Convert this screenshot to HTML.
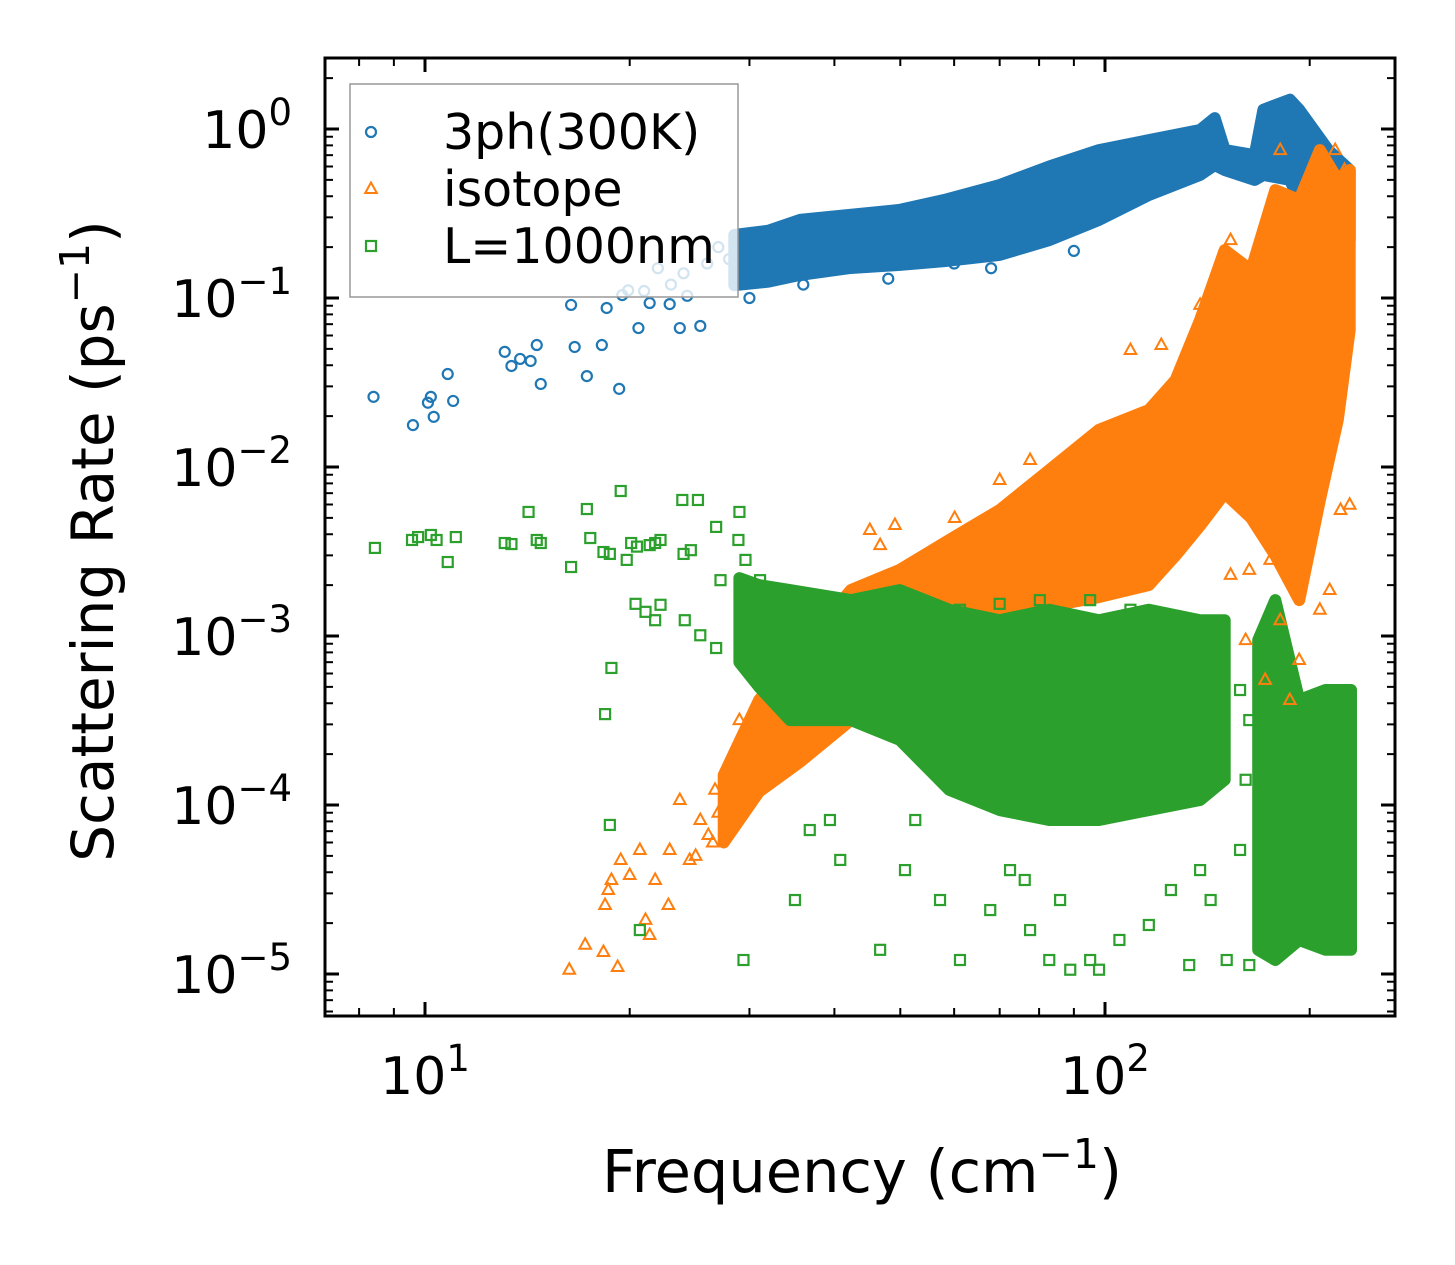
<!DOCTYPE html>
<html><head><meta charset="utf-8"><title>Scattering Rate vs Frequency</title>
<style>html,body{margin:0;padding:0;background:#fff}svg{display:block;font-family:"DejaVu Sans","Liberation Sans",sans-serif}</style>
</head><body>
<svg id="chart" width="1455" height="1265" viewBox="0 0 1455 1265" xmlns="http://www.w3.org/2000/svg">
<rect width="1455" height="1265" fill="#fff"/>
<g id="bands"></g><g id="pts"></g><g id="axes"></g><g id="legend"></g>
</svg>
<script>
// ---- data ----
const xTickVals = [10, 100];
const yTickExps = [0, -1, -2, -3, -4, -5];
const blueBandF = [28.5, 32, 35.6, 42, 49.9, 58, 70.0, 82.8, 98.0, 116, 138, 145, 150, 166, 171, 187, 193, 213, 229];
const blueBandHi = [0.236, 0.25, 0.29, 0.31, 0.332, 0.38, 0.466, 0.6, 0.75, 0.86, 0.986, 1.16, 0.75, 0.70, 1.30, 1.49, 1.30, 0.75, 0.572];
const blueBandLo = [0.119, 0.125, 0.137, 0.15, 0.157, 0.165, 0.18, 0.22, 0.29, 0.407, 0.535, 0.612, 0.572, 0.50, 0.535, 0.50, 0.38, 0.29, 0.22];
const orangeBandF = [27.5, 31.0, 35.6, 42.3, 49.9, 59.0, 70.0, 82.8, 98.0, 116, 127, 138, 150, 164, 178, 193, 207, 220, 229];
const orangeBandHi = [1.5e-4, 4.18e-4, 8.26e-4, 1.87e-3, 2.46e-3, 3.70e-3, 5.57e-3, 9.6e-3, 1.66e-2, 2.17e-2, 3.27e-2, 7.41e-2, 0.192, 0.146, 0.435, 0.38, 0.75, 0.50, 0.572];
const orangeBandLo = [6.0e-5, 1.2e-4, 1.8e-4, 3.18e-4, 7.21e-4, 1.24e-3, 1.3e-3, 1.5e-3, 1.7e-3, 2.0e-3, 3.0e-3, 4.5e-3, 7.0e-3, 5.0e-3, 3.0e-3, 1.63e-3, 6.38e-3, 1.90e-2, 6.47e-2];
const greenBandF = [29.0, 31.0, 34.4, 42.3, 49.9, 59.0, 70.0, 82.8, 98.0, 116, 138, 150];
const greenBandHi = [2.2e-3, 2.0e-3, 1.87e-3, 1.63e-3, 1.87e-3, 1.43e-3, 1.24e-3, 1.43e-3, 1.24e-3, 1.43e-3, 1.24e-3, 1.24e-3];
const greenBandLo = [7.0e-4, 5.0e-4, 3.18e-4, 3.18e-4, 2.43e-4, 1.23e-4, 9.33e-5, 8.15e-5, 8.15e-5, 9.33e-5, 1.07e-4, 1.41e-4];
const greenBand2F = [168, 178, 193, 211, 230];
const greenBand2Hi = [9.46e-4, 1.63e-3, 4.18e-4, 4.79e-4, 4.79e-4];
const greenBand2Lo = [1.39e-5, 1.21e-5, 1.59e-5, 1.39e-5, 1.39e-5];
const bluePtsF = [8.4,9.6,10.1,10.2,10.3,10.8,11.0,13.1,13.4,13.8,14.3,14.6,14.8,16.4,16.6,17.3,18.2,18.5,19.3,19.5,19.9,20.6,21.4,22.9,23.7,24.3,25.4,22,24,26,27,28,21,23,30,36,48,68,90,60];
const bluePtsV = [0.026,0.0177,0.024,0.026,0.0198,0.0355,0.0246,0.048,0.0396,0.0436,0.0424,0.0527,0.031,0.091,0.0513,0.0345,0.0527,0.0873,0.029,0.104,0.111,0.0664,0.0934,0.092,0.0664,0.103,0.0683,0.15,0.14,0.16,0.2,0.17,0.11,0.12,0.1,0.12,0.13,0.15,0.19,0.16];
const orangePtsF = [16.3,17.2,18.3,19.2,18.4,18.6,18.8,19.4,20.0,21.1,21.4,20.7,21.8,22.8,22.9,23.7,24.5,25.4,26.1,26.7,28.1,29.0,60.1,70,77.6,109,121,138,153,181,218,225,153,163,175,161,172,181,187,214,222,229,193,207,45.1,49.1,46.7,25.0,26.5,27.0];
const orangePtsV = [1.06e-5,1.49e-5,1.35e-5,1.1e-5,2.56e-5,3.14e-5,3.6e-5,4.73e-5,3.85e-5,2.09e-5,1.7e-5,5.42e-5,3.6e-5,2.56e-5,5.42e-5,1.07e-4,4.73e-5,8.15e-5,6.64e-5,1.23e-4,1.85e-4,3.18e-4,4.99e-3,8.38e-3,1.1e-2,4.92e-2,5.27e-2,9.1e-2,0.22,0.75,0.75,0.572,2.3e-3,2.46e-3,2.82e-3,9.46e-4,5.5e-4,1.24e-3,4.18e-4,1.87e-3,5.57e-3,5.98e-3,7.21e-4,1.43e-3,4.24e-3,4.54e-3,3.45e-3,5.0e-5,6.0e-5,9.0e-5];
const greenPtsF = [8.44,9.57,9.77,10.2,10.4,10.8,11.1,13.1,13.4,14.2,14.6,14.8,16.4,17.3,17.5,18.3,18.7,19.4,19.8,20.1,20.5,21.4,21.8,22.2,23.9,25.2,24.0,24.6,26.8,29.0,28.9,18.8,18.4,20.4,21.1,21.8,22.2,24.1,25.4,26.8,27.2,29.6,31.1,32.2,33.8,18.7,20.7,29.4,35.0,36.8,39.4,40.8,46.7,50.8,52.6,57.2,61.2,67.8,72.5,77.6,82.8,88.9,95.1,98,116,133,143,151,163,76.2,85.9,105,125,138,109,70,80.2,95.1,61.2,158,163,161,158];
const greenPtsV = [3.32e-3,3.70e-3,3.85e-3,3.96e-3,3.70e-3,2.74e-3,3.85e-3,3.55e-3,3.50e-3,5.42e-3,3.70e-3,3.55e-3,2.56e-3,5.64e-3,3.8e-3,3.14e-3,3.06e-3,7.21e-3,2.82e-3,3.55e-3,3.38e-3,3.45e-3,3.55e-3,3.70e-3,6.38e-3,6.38e-3,3.06e-3,3.22e-3,4.42e-3,5.42e-3,3.70e-3,6.47e-4,3.45e-4,1.55e-3,1.39e-3,1.24e-3,1.53e-3,1.24e-3,1.01e-3,8.49e-4,2.14e-3,2.82e-3,2.14e-3,1.63e-3,1.24e-3,7.62e-5,1.82e-5,1.21e-5,2.74e-5,7.11e-5,8.15e-5,4.73e-5,1.39e-5,4.12e-5,8.15e-5,2.74e-5,1.21e-5,2.39e-5,4.12e-5,1.82e-5,1.21e-5,1.06e-5,1.21e-5,1.06e-5,1.95e-5,1.13e-5,2.74e-5,1.21e-5,1.13e-5,3.6e-5,2.74e-5,1.59e-5,3.14e-5,4.12e-5,1.43e-3,1.55e-3,1.63e-3,1.63e-3,1.43e-3,4.79e-4,3.18e-4,1.41e-4,5.42e-5];

// ---- axes ----
const L=325,R=1395,T=58,B=1016;
const sx=f=>425+680*(Math.log10(f)-1);
const sy=v=>129-169*Math.log10(v);
const NS="http://www.w3.org/2000/svg";
function mk(tag,attrs,parent){const e=document.createElementNS(NS,tag);for(const k in attrs)e.setAttribute(k,attrs[k]);parent.appendChild(e);return e;}
const C={b:"#1f77b4",o:"#ff7f0e",g:"#2ca02c"};
const bands=document.getElementById('bands'),pts=document.getElementById('pts'),axes=document.getElementById('axes'),leg=document.getElementById('legend');

function band(F,Hi,Lo,col,name){
  let d="";F.forEach((f,i)=>{d+=(i?"L":"M")+sx(f).toFixed(1)+","+sy(Hi[i]).toFixed(1);});
  for(let i=F.length-1;i>=0;i--)d+="L"+sx(F[i]).toFixed(1)+","+sy(Lo[i]).toFixed(1);
  const p=mk('path',{d:d+"Z",fill:col,stroke:col,'stroke-width':12,'stroke-linejoin':'round'},bands);
  
  
}
function marker(kind,x,y,col,parent){
  let e;
  if(kind==='c')e=mk('circle',{cx:x,cy:y,r:5,fill:'none',stroke:col,'stroke-width':2.2},parent);
  else if(kind==='t')e=mk('polygon',{points:`${x},${y-6.5} ${x-5.8},${y+4} ${x+5.8},${y+4}`,fill:'none',stroke:col,'stroke-width':2},parent);
  else e=mk('rect',{x:x-5,y:y-5,width:10,height:10,fill:'none',stroke:col,'stroke-width':2.2},parent);
  return e;
}
function scatter(F,V,kind,col,name){
  F.forEach((f,i)=>{const e=marker(kind,sx(f),sy(V[i]),col,pts);
    
    });
}
band(blueBandF,blueBandHi,blueBandLo,C.b,'3ph-band');
scatter(bluePtsF,bluePtsV,'c',C.b,'3ph-point');
band(orangeBandF,orangeBandHi,orangeBandLo,C.o,'isotope-band');
scatter(orangePtsF,orangePtsV,'t',C.o,'isotope-point');
band(greenBandF,greenBandHi,greenBandLo,C.g,'boundary-band');
band(greenBand2F,greenBand2Hi,greenBand2Lo,C.g,'boundary-band-high-freq');
scatter(greenPtsF,greenPtsV,'s',C.g,'boundary-point');

// frame
const fr=mk('rect',{x:L,y:T,width:R-L,height:B-T,fill:'none',stroke:'#000','stroke-width':3},axes);


function tick(x1,y1,x2,y2,w){mk('line',{x1,y1,x2,y2,stroke:'#000','stroke-width':w},axes);}
for(let dec=1;dec<=100;dec*=10){for(let m=1;m<10;m++){const f=dec*m;const x=sx(f);if(x<L||x>R)continue;
  const maj=m===1;const len=maj?14:8;const w=maj?3:2;tick(x,B,x,B-len,w);tick(x,T,x,T+len,w);}}
xTickVals.forEach((v,i)=>{const t=mk('text',{x:sx(v),y:1094,'font-size':52,'text-anchor':'middle',fill:'#000'},axes);
  
  
  t.innerHTML=`10<tspan dy="-23" font-size="37">${Math.round(Math.log10(v))}</tspan>`;});
for(let e=-6;e<=0;e++){for(let m=1;m<10;m++){const v=m*Math.pow(10,e);const y=sy(v);if(y<T||y>B)continue;
  const maj=m===1;const len=maj?14:8;const w=maj?3:2;tick(L,y,L+len,y,w);tick(R,y,R-len,y,w);}}
yTickExps.forEach(ex=>{const t=mk('text',{x:292,y:sy(Math.pow(10,ex))+19,'font-size':52,'text-anchor':'end',fill:'#000'},axes);
  
  
  const lab=ex<0?('\u2212'+(-ex)):String(ex);
  t.innerHTML=`10<tspan dy="-23" font-size="37">${lab}</tspan>`;});
const xt=mk('text',{x:862,y:1192,'font-size':59,'text-anchor':'middle',fill:'#000'},axes);


xt.innerHTML='Frequency (cm<tspan dy="-24" font-size="41">\u22121</tspan><tspan dy="24">)</tspan>';
const yt=mk('text',{x:0,y:0,'font-size':58,'text-anchor':'middle',fill:'#000',transform:'translate(113,541) rotate(-90)'},axes);


yt.innerHTML='Scattering Rate (ps<tspan dy="-24" font-size="41">\u22121</tspan><tspan dy="24">)</tspan>';

// legend
const lb=mk('rect',{x:350,y:84,width:388,height:213,fill:'#fff','fill-opacity':0.8,stroke:'#999','stroke-width':1.5},leg);


const legLabels=['3ph(300K)','isotope','L=1000nm'];
const legKinds=['c','t','s'];const legCols=[C.b,C.o,C.g];
legLabels.forEach((s,i)=>{const y=132+57*i;
  const g=mk('g',{},leg);
  
  
  marker(legKinds[i],371,y,legCols[i],g);
  const t=mk('text',{x:443,y:y+17,'font-size':49,fill:'#000'},g);t.textContent=s;});
</script>
</body></html>
